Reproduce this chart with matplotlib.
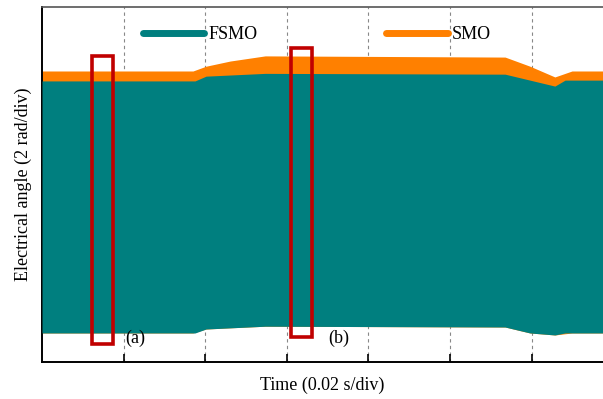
import matplotlib.pyplot as plt
from matplotlib.lines import Line2D
from matplotlib.patches import Rectangle

plt.rcParams['font.family'] = ['Liberation Serif', 'DejaVu Serif']

# envelopes of the estimated electrical angle (rad) vs time (s)
t_fsmo = [0.0, 0.0375, 0.0402, 0.0547, 0.1135, 0.1196, 0.1257, 0.1282, 0.1375]
fsmo_top = [3.11, 3.11, 3.23, 3.30, 3.28, 3.13, 2.98, 3.13, 3.13]
fsmo_bot = [-3.23, -3.23, -3.13, -3.06, -3.08, -3.23, -3.28, -3.23, -3.23]

t_smo = [0.0, 0.0370, 0.0402, 0.0461, 0.0547, 0.1135, 0.1196, 0.1257, 0.1299, 0.1375]
smo_top = [3.36, 3.36, 3.48, 3.61, 3.74, 3.71, 3.48, 3.21, 3.36, 3.36]
smo_bot = [-3.23, -3.23, -3.13, -3.10, -3.06, -3.08, -3.23, -3.28, -3.23, -3.23]

# zoomed windows (a) and (b): t0, t1, y0, y1
win_a = [0.01225, 0.0174, -3.51, 3.74]
win_b = [0.0610, 0.0662, -3.33, 3.94]

teal = '#007f7f'
orange = '#ff8000'

fig = plt.figure(figsize=(6.03, 3.99), dpi=100)
ax = fig.add_axes([0.0697, 0.0927, 0.9303, 0.8898])

ax.fill_between(t_smo, smo_bot, smo_top, color=orange, lw=0, zorder=2)
ax.fill_between(t_fsmo, fsmo_bot, fsmo_top, color=teal, lw=0, zorder=3)

for t0, t1, y0, y1 in [win_a, win_b]:
    ax.add_patch(Rectangle((t0, y0), t1 - t0, y1 - y0, fill=False,
                           ec='#c00000', lw=2.6, zorder=5))
ax.text(0.0203, -3.36, '(a)', fontsize=13, va='center', ha='left')
ax.text(0.0701, -3.36, '(b)', fontsize=13, va='center', ha='left')

ax.set_xlim(0, 0.1375)
ax.set_ylim(-3.96, 4.97)
ax.set_xticks([0.02, 0.04, 0.06, 0.08, 0.10, 0.12])
ax.set_yticks([-3, -1, 1, 3])
ax.set_xticklabels([])
ax.set_yticklabels([])
ax.tick_params(axis='x', direction='in', length=6, width=1.2)
ax.tick_params(axis='y', direction='in', length=8, width=1.2)
ax.xaxis.grid(True, ls=(0, (3, 3)), color='#888888', lw=0.8, zorder=1)
ax.set_axisbelow(True)

ax.spines['right'].set_visible(False)
ax.spines['top'].set_color('#555555')
ax.spines['top'].set_linewidth(1.2)
ax.spines['left'].set_linewidth(1.4)
ax.spines['bottom'].set_linewidth(1.4)

ax.set_xlabel('Time (0.02 s/div)', fontsize=13, labelpad=7)
ax.set_ylabel('Electrical angle (2 rad/div)', fontsize=13, labelpad=4)

handles = [Line2D([], [], color=teal, lw=5, solid_capstyle='round'),
           Line2D([], [], color=orange, lw=5, solid_capstyle='round')]
ax.legend(handles, ['FSMO', 'SMO'], ncol=2, frameon=False, fontsize=13,
          loc='upper left', bbox_to_anchor=(143 / 603, 1 - 26 / 399),
          bbox_transform=fig.transFigure, borderpad=0, borderaxespad=0,
          handlelength=3.4, handletextpad=0.25, columnspacing=7.1)

fig.savefig('out.png', dpi=100)
